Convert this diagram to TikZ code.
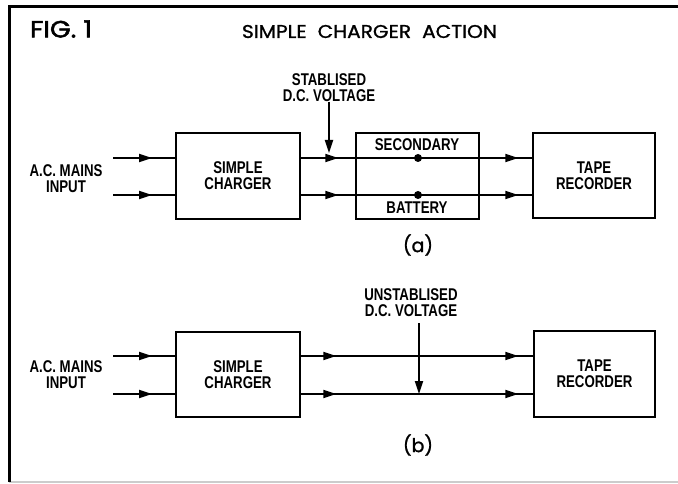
\documentclass[tikz,border=0pt]{standalone}
\usepackage{fontspec}
\setmainfont{Liberation Sans}
\newfontfamily\lblfont[FakeStretch=0.78]{Liberation Sans}
\newfontfamily\ttlfont[FakeBold=1.2]{Poppins}
\newfontfamily\figfont[FakeBold=2]{Poppins}
\usetikzlibrary{arrows.meta,decorations.markings}
\begin{document}
\begin{tikzpicture}[x=1pt,y=-1pt,
  lbl/.style={font=\lblfont\bfseries\fontsize{17}{16}\selectfont, align=center, inner sep=0pt},
  blk/.style={draw, line width=2.8pt, inner sep=0pt, align=center,
              font=\lblfont\bfseries\fontsize{17}{16}\selectfont},
  wire/.style={line width=1.8pt},
  tip/.style={-{Triangle[length=13pt,width=8pt]}},
  arr1/.style={decoration={markings, mark=at position #1 with {\arrow{Triangle[length=13pt,width=8pt]}}}, postaction={decorate}},
  arr2/.style 2 args={decoration={markings,
      mark=at position #1 with {\arrow{Triangle[length=13pt,width=8pt]}},
      mark=at position #2 with {\arrow{Triangle[length=13pt,width=8pt]}}}, postaction={decorate}},
  dotn/.style={circle, fill, inner sep=0pt, minimum size=8pt},
  sub/.style={font=\ttlfont\fontsize{19}{19}\selectfont, inner sep=0pt}
]
\useasboundingbox (0,0) rectangle (678,484);
% frame
\draw[black!20, line width=1.5pt] (9,482) -- (678,482);
\draw[line width=3pt] (9,482) -- (9,7) -- (678,7);

% titles
\node[inner sep=0pt] (fig) at (61,29) {\resizebox{62pt}{17pt}{\figfont FIG. 1}};
\node[inner sep=0pt] (title) at (369.5,31.5) {\resizebox{255pt}{13pt}{\ttlfont SIMPLE\hspace{0.55em}CHARGER\hspace{0.55em}ACTION}};

% ---------- (a) ----------
\node[lbl] (acina) at (66,179) {A.C. MAINS\\INPUT};
\node[blk, minimum width=124pt, minimum height=86pt] (chga) at (238,176) {SIMPLE\\CHARGER};
\node[draw, line width=2.8pt, minimum width=123pt, minimum height=86pt, inner sep=0pt] (bat) at (417.5,176) {};
\node[blk, minimum width=122pt, minimum height=85pt] (tapea) at (594,175.5) {TAPE\\RECORDER};
\node[lbl] (sec) at (417,145) {SECONDARY};
\node[lbl] (batt) at (417,208) {BATTERY};
\node[lbl] (stab) at (329,87.5) {STABLISED\\D.C. VOLTAGE};
\node[sub] (la) at (418,245) {(a)};

\coordinate (ia1) at (113,158);
\coordinate (ia2) at (113,195);
\draw[wire, arr1=39pt] (ia1) -- (ia1 -| chga.west);
\draw[wire, arr1=39pt] (ia2) -- (ia2 -| chga.west);
\draw[wire, arr2={37pt}{217pt}] (ia1 -| chga.east) -- (ia1 -| tapea.west);
\draw[wire, arr2={37pt}{217pt}] (ia2 -| chga.east) -- (ia2 -| tapea.west);
\node[dotn] (d1) at (418,158) {};
\node[dotn] (d2) at (418,195) {};
\coordinate (stabtip) at (329,153);
\draw[wire, tip] (stab.south -| stabtip) -- (stabtip);

% ---------- (b) ----------
\node[lbl] (acinb) at (66,375) {A.C. MAINS\\INPUT};
\node[blk, minimum width=124pt, minimum height=85pt] (chgb) at (238,374.5) {SIMPLE\\CHARGER};
\node[blk, minimum width=121pt, minimum height=86pt] (tapeb) at (594.5,374) {TAPE\\RECORDER};
\node[lbl] (ustab) at (411,302.5) {UNSTABLISED\\D.C. VOLTAGE};
\node[sub] (lb) at (418,445) {(b)};

\coordinate (ib1) at (113,356);
\coordinate (ib2) at (113,394);
\draw[wire, arr1=39pt] (ib1) -- (ib1 -| chgb.west);
\draw[wire, arr1=39pt] (ib2) -- (ib2 -| chgb.west);
\draw[wire, arr2={35pt}{217pt}] (ib1 -| chgb.east) -- (ib1 -| tapeb.west);
\draw[wire, arr2={35pt}{217pt}] (ib2 -| chgb.east) -- (ib2 -| tapeb.west);
\coordinate (utop) at (419,323);
\coordinate (utip) at (419,394);
\draw[wire, tip] (utop) -- (utip);
\end{tikzpicture}
\end{document}
